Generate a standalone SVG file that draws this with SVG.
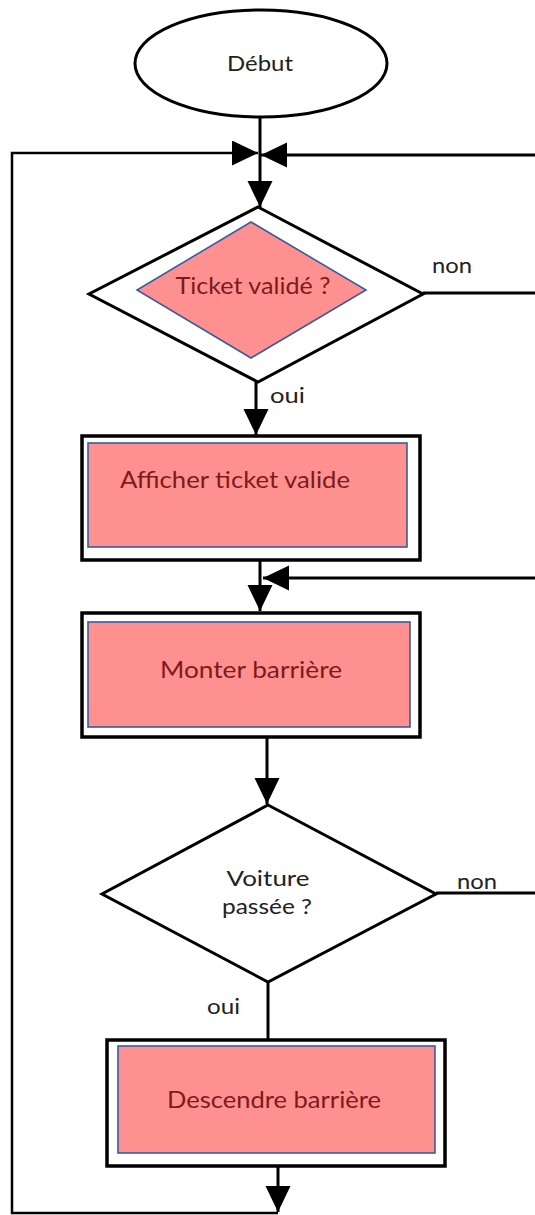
<svg xmlns="http://www.w3.org/2000/svg" width="535" height="1215" viewBox="0 0 535 1215">
<style>
.outer{fill:#fff;stroke:#000;stroke-width:3.5}
.inner{fill:#fe9190;stroke:#3a5ba0;stroke-width:1.6}
.conn{fill:none;stroke:#000;stroke-width:3}
.lbl{font-family:Lato,"Liberation Sans",sans-serif;fill:#222}
.red{font-family:Lato,"Liberation Sans",sans-serif;fill:#7f1a1a}
</style>
<defs>
<marker id="arr" markerUnits="userSpaceOnUse" markerWidth="27" markerHeight="26" refX="26" refY="12.5" orient="auto">
<path d="M0,0 L26,12.5 L0,25 z" fill="#000"/>
</marker>
</defs>
<g id="connectors">
<path class="conn" d="M260,117 V207" marker-end="url(#arr)"/>
<path class="conn" d="M278,1166 V1212" marker-end="url(#arr)"/>
<path class="conn" d="M278,1213 H12 V153 H258" marker-end="url(#arr)" style="stroke-width:2.5"/>
<path class="conn" d="M535,155 H261" marker-end="url(#arr)"/>
<path class="conn" d="M423,293 H535"/>
<path class="conn" d="M436,893 H535"/>
<path class="conn" d="M535,578 H263" marker-end="url(#arr)"/>
<path class="conn" d="M256,382 V435" marker-end="url(#arr)"/>
<path class="conn" d="M260,560 V611" marker-end="url(#arr)"/>
<path class="conn" d="M267,737 V804" marker-end="url(#arr)"/>
<path class="conn" d="M268,982 V1040"/>
</g>
<g id="debut">
<ellipse cx="261" cy="63.5" rx="126" ry="53.5" fill="#fff" stroke="#000" stroke-width="3"/>
<text class="lbl" x="260" y="71" font-size="22" text-anchor="middle" textLength="66" lengthAdjust="spacingAndGlyphs">Début</text>
</g>
<g id="ticket-valide">
<polygon class="outer" points="258,207 423,294 258,382 89,294" style="stroke-width:3"/>
<polygon class="inner" points="251,222 366,290 251,358 137,290"/>
<text class="red" x="253" y="294" font-size="23" text-anchor="middle" textLength="155" lengthAdjust="spacingAndGlyphs">Ticket validé ?</text>
</g>
<g id="label-non-1"><text class="lbl" x="432" y="273" font-size="22" textLength="40" lengthAdjust="spacingAndGlyphs">non</text></g>
<g id="label-oui-1"><text class="lbl" x="270" y="403" font-size="22" textLength="35" lengthAdjust="spacingAndGlyphs">oui</text></g>
<g id="afficher">
<rect class="outer" x="82" y="436" width="338" height="124"/>
<rect class="inner" x="88" y="443" width="319" height="104"/>
<text class="red" x="120" y="488" font-size="23" textLength="230" lengthAdjust="spacingAndGlyphs">Afficher ticket valide</text>
</g>
<g id="monter">
<rect class="outer" x="82" y="613" width="338" height="124"/>
<rect class="inner" x="88" y="622" width="322" height="105"/>
<text class="red" x="251" y="678" font-size="23" text-anchor="middle" textLength="182" lengthAdjust="spacingAndGlyphs">Monter barrière</text>
</g>
<g id="voiture-passee">
<polygon class="outer" points="268,805 436,894 268,982 102,894" style="stroke-width:3"/>
<text class="lbl" x="268" y="886" font-size="21" text-anchor="middle" textLength="83" lengthAdjust="spacingAndGlyphs">Voiture</text>
<text class="lbl" x="267" y="914" font-size="21" text-anchor="middle" textLength="90" lengthAdjust="spacingAndGlyphs">passée ?</text>
</g>
<g id="label-non-2"><text class="lbl" x="457" y="889" font-size="22" textLength="40" lengthAdjust="spacingAndGlyphs">non</text></g>
<g id="label-oui-2"><text class="lbl" x="207" y="1014" font-size="22" textLength="33" lengthAdjust="spacingAndGlyphs">oui</text></g>
<g id="descendre">
<rect class="outer" x="107" y="1040" width="338" height="126"/>
<rect class="inner" x="118" y="1046" width="317" height="107"/>
<text class="red" x="274" y="1108" font-size="23" text-anchor="middle" textLength="214" lengthAdjust="spacingAndGlyphs">Descendre barrière</text>
</g>
</svg>
